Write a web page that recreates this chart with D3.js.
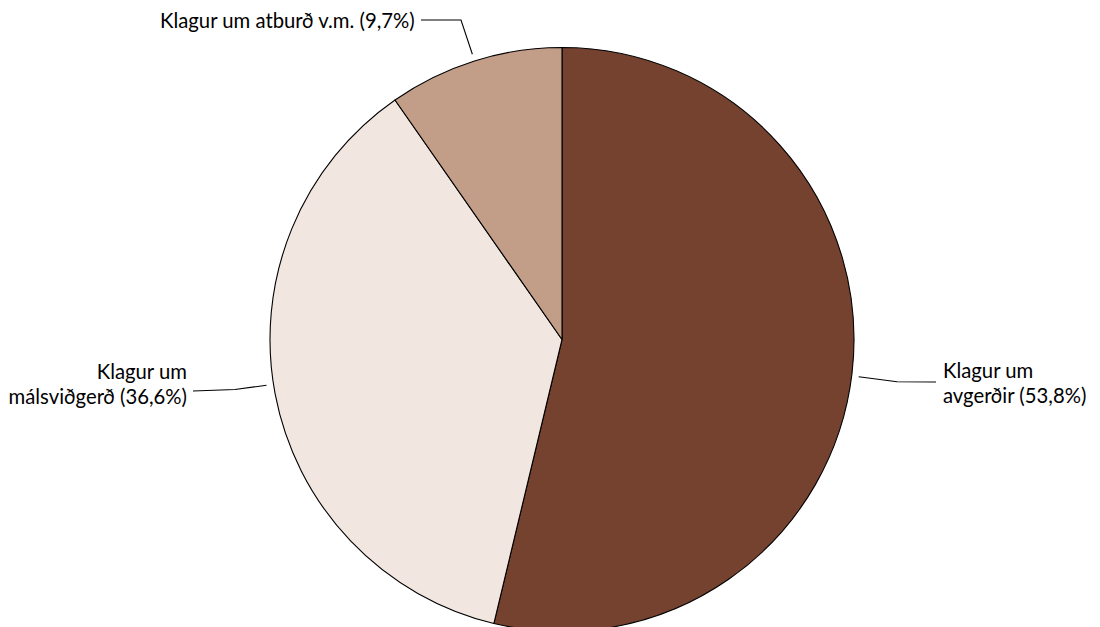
<!DOCTYPE html>
<html><head><meta charset="utf-8">
<script src="https://cdn.jsdelivr.net/npm/d3@7/dist/d3.min.js"></script>
<style>html,body{margin:0;padding:0;background:#fff;}svg{display:block;}</style>
</head><body>
<svg id="chart" width="1100" height="627"></svg>
<script>
const categories = ["Klagur um avgerðir", "Klagur um málsviðgerð", "Klagur um atburð v.m."];
const values = [53.8, 36.6, 9.7];
const labelLines = [["Klagur um", "avgerðir (53,8%)"], ["Klagur um", "málsviðgerð (36,6%)"], ["Klagur um atburð v.m. (9,7%)"]];
const colors = ["#754230", "#F2E6E0", "#C29D88"];

const svg = d3.select("#chart");
const cx = 562, cy = 339.5, R = 292;
const g = svg.append("g").attr("transform", `translate(${cx},${cy})`);

const pie = d3.pie().value(d => d).sort(null);
const arcs = pie(values);
const arc = d3.arc().innerRadius(0).outerRadius(R);

g.selectAll("path.slice").data(arcs).enter().append("path")
  .attr("class", "slice")
  .attr("d", arc)
  .attr("fill", (d, i) => colors[i])
  .attr("stroke", "#000")
  .attr("stroke-width", 1.1)
  .attr("stroke-linejoin", "round");

// label layout (page coords), anchor, leader elbows, small angle nudge (deg)
const layout = [
  {x: 943, y: 378, anchor: "start", elbow: [897, 381.7], end: [936, 382], nudge: 0.4},
  {x: 187, y: 379, anchor: "end", elbow: [235, 389.5], end: [193, 391], nudge: 1.9},
  {x: 160, y: 28, anchor: "start", elbow: [461, 20], end: [421, 20], nudge: 0}
];
const font = "Lato, 'Open Sans', sans-serif";
const lineH = 25;

arcs.forEach((a, i) => {
  const L = layout[i];
  const mid = (a.startAngle + a.endAngle) / 2 + L.nudge * Math.PI / 180;
  const rr = R + 7;
  const sx = cx + rr * Math.sin(mid), sy = cy - rr * Math.cos(mid);
  svg.append("polyline")
    .attr("points", [[sx, sy], L.elbow, L.end].map(p => p.join(",")).join(" "))
    .attr("fill", "none").attr("stroke", "#000").attr("stroke-width", 1.1);
  const t = svg.append("text")
    .attr("x", L.x).attr("y", L.y)
    .attr("text-anchor", L.anchor)
    .attr("font-family", font).attr("font-size", 20.3).attr("fill", "#000");
  labelLines[i].forEach((ln, j) => {
    t.append("tspan").attr("x", L.x).attr("y", L.y + j * lineH).text(ln);
  });
});
</script>
</body></html>
